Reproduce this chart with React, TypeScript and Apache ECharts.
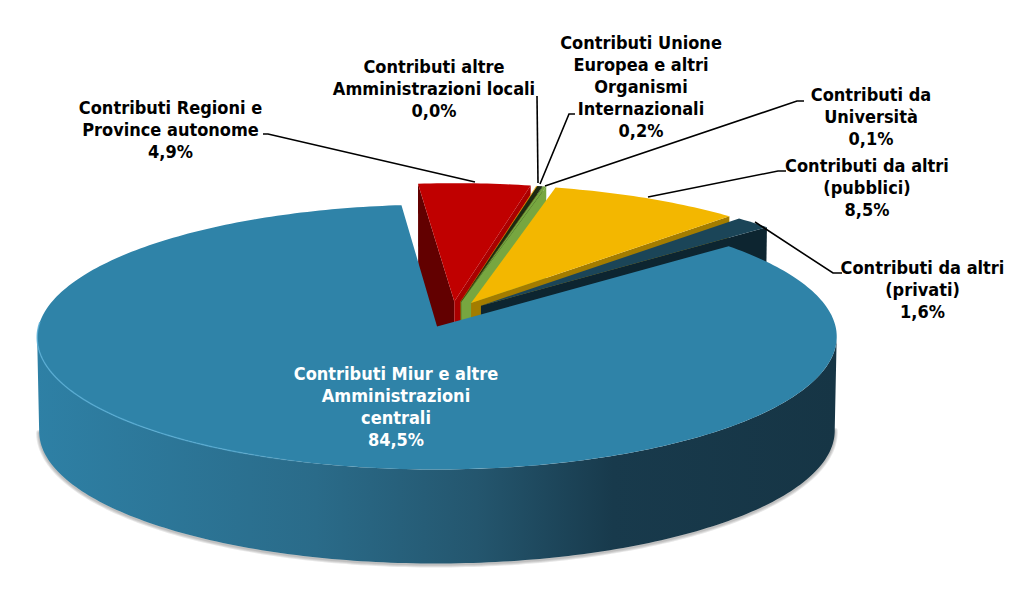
import React, { useEffect, useRef } from "react";
import * as echarts from "echarts";

const categories = [
  "Contributi Miur e altre\nAmministrazioni\ncentrali",
  "Contributi Regioni e\nProvince autonome",
  "Contributi altre\nAmministrazioni locali",
  "Contributi Unione\nEuropea e altri\nOrganismi\nInternazionali",
  "Contributi da\nUniversità",
  "Contributi da altri\n(pubblici)",
  "Contributi da altri\n(privati)",
];
const values = [84.5, 4.95, 0.03, 0.24, 0.14, 8.5, 1.64];
const percentLabels = ["84,5%", "4,9%", "0,0%", "0,2%", "0,1%", "8,5%", "1,6%"];

// indices of slices, back to front
const drawOrder = [1, 2, 3, 4, 5, 6, 0];

const topColors = ["#2f83a8", "#c00000", "#f0a800", "#1c2a12", "#77a640", "#f3b700", "#1b4558"];
const startWall = ["#2a6d8c", "#620000", "#a87800", "#101a0a", "#5d8232", "#a37c00", "#0d2530"];
const endWall = ["#2a6d8c", "#aa0000", "#d09000", "#1c2a12", "#77a640", "#a37c00", "#0d2530"];

const labelPos: [number, number][] = [
  [396, 362], [170.5, 96], [434, 55], [641, 31], [871, 83], [867, 154], [922.5, 256],
];
const leaders: [number, number][][] = [
  [],
  [[263, 134], [268, 134], [475, 182]],
  [[537, 96], [538, 183]],
  [[575, 114], [569, 114], [540, 184]],
  [[804, 101], [797, 101], [545, 186]],
  [[648, 197], [778, 171], [786, 171]],
  [[755, 222], [833, 273], [842, 273]],
];

const CX = 452.1, CY = 314.4, R = 395.6, RY = 129.7, K = 0.079, EXPLODE = 0.1, DEPTH = 94;
const FONT = '"DejaVu Sans Condensed", Tahoma, "DejaVu Sans", sans-serif';
const rad = (d: number) => (d * Math.PI) / 180;

const total = values.reduce((a, b) => a + b, 0);
const FIRST_ANGLE = 50.1;
const spans = values.map((v) => (v / total) * 360);
const starts: number[] = [];
spans.reduce((a, s, i) => ((starts[i] = a), a + s), FIRST_ANGLE);

function proj(u: number, v: number): [number, number] {
  const w = 1 + K * v;
  return [CX + (R * u) / w, CY - (RY * v) / w];
}
function offsetOf(i: number): [number, number] {
  const b = rad(starts[i] + spans[i] / 2);
  return [EXPLODE * Math.sin(b), EXPLODE * Math.cos(b)];
}
function apexOf(i: number): [number, number] {
  const o = offsetOf(i);
  return proj(o[0], o[1]);
}
function rim(i: number, deg: number): [number, number] {
  const o = offsetOf(i);
  return proj(o[0] + Math.sin(rad(deg)), o[1] + Math.cos(rad(deg)));
}
function down(i: number, pt: [number, number]): [number, number] {
  const a = apexOf(i);
  return [a[0] + (pt[0] - a[0]) * 0.995, pt[1] + DEPTH];
}
function arc(i: number, from: number, to: number) {
  const pts: [number, number][] = [];
  const n = Math.max(1, Math.ceil(Math.abs(to - from)));
  for (let k = 0; k <= n; k++) pts.push(rim(i, from + ((to - from) * k) / n));
  return pts;
}
function frontArc(i: number) {
  const pts = arc(i, 70, 290);
  let a = 0, b = 0;
  pts.forEach((p, k) => {
    if (p[0] > pts[a][0]) a = k;
    if (p[0] < pts[b][0]) b = k;
  });
  return pts.slice(a, b + 1);
}

const renderSlice = (_params: any, api: any) => {
  const i = api.value(1) as number;
  const s = starts[i];
  const e = s + spans[i];
  const apex = apexOf(i);
  const children: any[] = [];
  const wall = (deg: number, fill: string) => {
    const r = rim(i, deg);
    children.push({
      type: "polygon",
      shape: { points: [apex, r, down(i, r), down(i, apex)] },
      style: { fill },
    });
  };
  if (Math.cos(rad(s - 90)) < 0) wall(s, startWall[i]);
  if (Math.cos(rad(e + 90)) < 0) wall(e, endWall[i]);
  if (i === 0) {
    const top = frontArc(i);
    const bottom = top.map((p) => down(i, p));
    // soft shadow hugging the lower edge of the drum
    const shadowLine = bottom.map((p) => [p[0], p[1] + 1] as [number, number]);
    [6, 4, 2].forEach((lineWidth) => {
      children.push({
        type: "polyline",
        shape: { points: shadowLine },
        style: { fill: "none", stroke: "rgba(60,60,60,0.12)", lineWidth, lineCap: "round" },
      });
    });
    children.push({
      type: "polygon",
      shape: { points: [...top, ...bottom.slice().reverse()] },
      style: {
        fill: new echarts.graphic.LinearGradient(0, 0, 1, 0, [
          { offset: 0, color: "#2e80a5" },
          { offset: 0.35, color: "#2a6b89" },
          { offset: 0.55, color: "#24566e" },
          { offset: 0.72, color: "#183a4c" },
          { offset: 1, color: "#163545" },
        ]),
      },
    });
  }
  children.push({
    type: "polygon",
    shape: { points: [apex, ...arc(i, s, e)] },
    style: { fill: topColors[i] },
  });
  if (i === 0) {
    children.push({
      type: "polyline",
      shape: { points: arc(i, 195, 272) },
      style: {
        fill: "none",
        lineWidth: 1.4,
        stroke: new echarts.graphic.LinearGradient(1, 0, 0, 0, [
          { offset: 0, color: "rgba(90,175,215,0)" },
          { offset: 0.35, color: "rgba(90,175,215,0.7)" },
          { offset: 1, color: "rgba(90,175,215,0.8)" },
        ]),
      },
    });
  }
  return { type: "group", children };
};

function labelGraphics() {
  const out: any[] = [];
  categories.forEach((c, i) => {
    const lines = leaders[i];
    if (lines.length) {
      out.push({
        type: "polyline",
        z: 50,
        shape: { points: lines },
        style: { fill: "none", stroke: "#000", lineWidth: 1.6 },
      });
    }
    out.push({
      type: "text",
      z: 60,
      x: labelPos[i][0],
      y: labelPos[i][1],
      style: {
        text: c + "\n" + percentLabels[i],
        fill: i === 0 ? "#ffffff" : "#000000",
        font: `bold 18px ${FONT}`,
        lineHeight: 22,
        align: "center",
        verticalAlign: "top",
      },
    });
  });
  return out;
}

export default function App() {
  const ref = useRef<HTMLDivElement>(null);
  useEffect(() => {
    document.body.style.margin = "0";
    const chart = echarts.init(ref.current!, undefined, { renderer: "svg" });
    chart.setOption({
      animation: false,
      backgroundColor: "#ffffff",
      series: [
        {
          type: "custom",
          coordinateSystem: "none",
          silent: true,
          renderItem: renderSlice,
          encode: { value: 0 },
          data: drawOrder.map((i) => [values[i], i]),
        },
      ],
      graphic: labelGraphics(),
    });
    return () => chart.dispose();
  }, []);
  return <div ref={ref} style={{ position: "fixed", left: 0, top: 0, width: 1024, height: 606 }} />;
}
